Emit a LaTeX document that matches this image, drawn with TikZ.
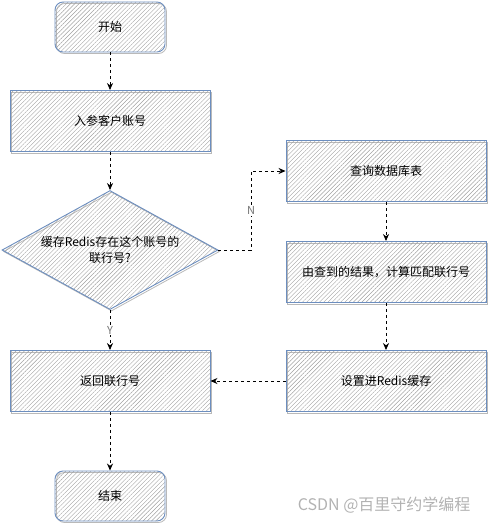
\documentclass[tikz,border=0pt]{standalone}
\usepackage{fontspec}
\setmainfont{Noto Sans CJK SC}
\usetikzlibrary{shapes.geometric,arrows.meta,patterns.meta}
\definecolor{bordc}{HTML}{6C8EBF}
\definecolor{hatc}{HTML}{A0A0A0}
\tikzset{
  hatch/.style={fill=white, pattern={Lines[angle=45,distance=3pt,line width=0.4pt]}, pattern color=hatc},
  sk/.style={hatch, draw=bordc, line width=0.9pt,
    preaction={draw=gray!55, line width=0.8pt, transform canvas={shift={(1.5pt,-1.5pt)}}},
    font=\fontsize{12pt}{16pt}\selectfont, align=center, inner sep=0pt},
  procbox/.style={sk, rectangle, minimum width=200pt, minimum height=61pt},
  termbox/.style={sk, rectangle, rounded corners=8pt, minimum width=110pt, minimum height=50pt},
  decbox/.style={sk, diamond, aspect=1.82, minimum width=216pt, minimum height=119pt},
  flow/.style={draw=black, line width=0.8pt, dash pattern=on 3pt off 3pt, -{Stealth[length=7pt,width=6pt]}},
  lbl/.style={fill=white, inner sep=1pt, text=gray!90!black, font=\fontsize{11pt}{13pt}\selectfont}
}
\begin{document}
\begin{tikzpicture}[x=1pt,y=-1pt]
\useasboundingbox (0,0) rectangle (488,524);
\node[termbox] (start) at (110,27) {开始};
\node[procbox] (inp) at (110,121) {入参客户账号};
\node[decbox] (dec) at (110,250) {缓存Redis存在这个账号的\\联行号?};
\node[procbox] (ret) at (110,381) {返回联行号};
\node[termbox] (end) at (110,496) {结束};
\node[procbox] (query) at (386,171) {查询数据库表};
\node[procbox] (calc) at (386,272) {由查到的结果，计算匹配联行号};
\node[procbox] (setr) at (386,381) {设置进Redis缓存};
\coordinate (nbot) at (251,250);
\coordinate (ntop) at (251,171);
\draw[flow] (start) -- (inp);
\draw[flow] (inp) -- (dec);
\draw[flow] (dec) -- node[lbl,pos=0.5]{Y} (ret);
\draw[flow] (ret) -- (end);
\draw[flow] (dec.east) -- (nbot) -- node[lbl]{N} (ntop) -- (query);
\draw[flow] (query) -- (calc);
\draw[flow] (calc) -- (setr);
\draw[flow] (setr) -- (ret);
\node[text=gray!60, font=\fontsize{16pt}{18pt}\selectfont, anchor=east] (wm) at (474,505) {CSDN @百里守约学编程};
\end{tikzpicture}
\end{document}
